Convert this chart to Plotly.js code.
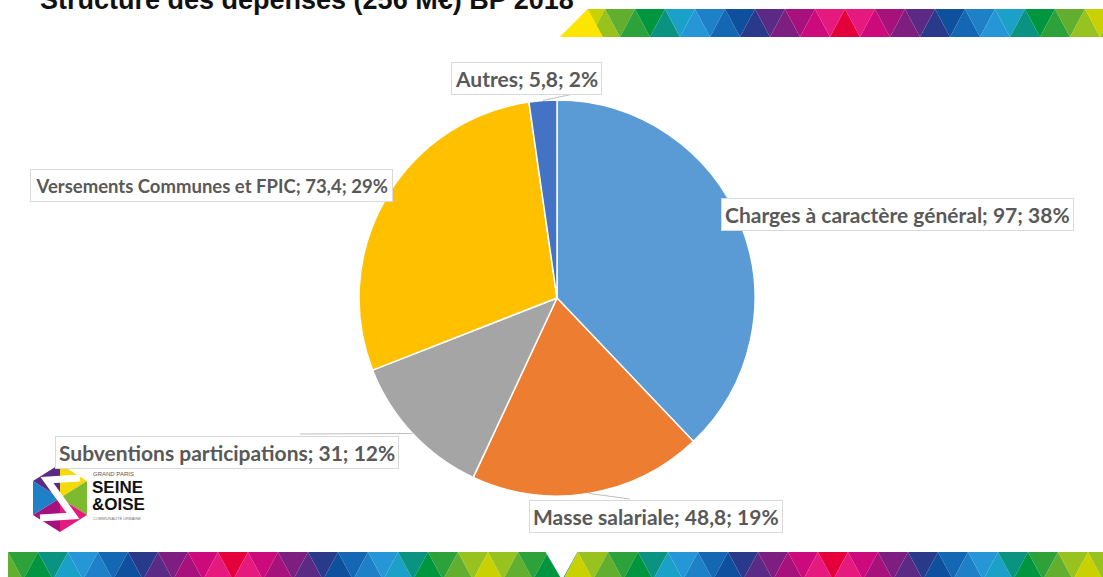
<!DOCTYPE html>
<html>
<head>
<meta charset="utf-8">
<script src="https://cdn.plot.ly/plotly-3.0.1.min.js"></script>
<style>html,body{margin:0;padding:0;background:#fff;}#chart{width:1103px;height:577px;}</style>
</head>
<body>
<div id="chart"></div>
<script>
// ---- data ----
const categories = ["Charges à caractère général", "Masse salariale", "Subventions participations", "Versements Communes et FPIC", "Autres"];
const values = [97, 48.8, 31, 73.4, 5.8];
const sliceColors = ["#5B9BD5", "#ED7D31", "#A5A5A5", "#FFC000", "#4472C4"];
const titleText = "Structure des dépenses (256 M€) BP 2018";

// ---- layout constants (pixels) ----
const W = 1103, H = 577;
const CX = 557, CY = 298, R = 198;
const labelPos = [[897, 214], [656, 516], [227, 452], [211, 185], [526, 78]];
const labelSize = [21, 21, 21, 18.5, 21];
const leaderEnd = [null, [630, 499], [300, 434], null, [578, 93]];

const total = values.reduce((a, b) => a + b, 0);
const fmt = v => String(v).replace('.', ',');
const labelTexts = categories.map((c, i) => c + "; " + fmt(values[i]) + "; " + Math.round(values[i] / total * 100) + "%");

// mid angles (clockwise from 12 o'clock)
let acc = 0;
const midAngles = values.map(v => { const a = (acc + v / 2) / total * 2 * Math.PI; acc += v; return a; });

const shapes = [];
const annotations = [];

// leader lines
midAngles.forEach((a, i) => {
  if (!leaderEnd[i]) return;
  const ex = CX + R * Math.sin(a), ey = CY - R * Math.cos(a);
  shapes.push({type: 'line', xref: 'x', yref: 'y', x0: ex, y0: ey, x1: leaderEnd[i][0], y1: leaderEnd[i][1],
    line: {color: '#BFBFBF', width: 1}, layer: 'above'});
});

// label boxes
labelTexts.forEach((t, i) => {
  annotations.push({xref: 'x', yref: 'y', x: labelPos[i][0], y: labelPos[i][1], text: t, showarrow: false,
    xanchor: 'center', yanchor: 'middle', bgcolor: '#FFFFFF', bordercolor: '#D9D9D9', borderwidth: 1,
    borderpad: labelSize[i] < 21 ? 4.5 : 3,
    font: {family: 'Lato, "Open Sans", sans-serif', size: labelSize[i], color: '#595959', weight: 'bold'}});
});

// title (cut off at top as in reference)
annotations.push({xref: 'x', yref: 'y', x: 38, y: 17, xanchor: 'left', yanchor: 'bottom', text: '<b>' + titleText + '</b>',
  showarrow: false, font: {family: '"Liberation Sans", Arial, sans-serif', size: 27, color: '#111111'}});

// ---- decorative stripes ----
const palette = ["#FCE500", "#C9D200", "#98C21E", "#62AF2F", "#2EA23A", "#00963F", "#0B9382", "#1BA0C7", "#2597D7", "#1E80C6",
  "#1467B3", "#0E4F9E", "#2A3A8A", "#5B2A85", "#7E1E80", "#A7117B", "#CC0A7C", "#E6197F", "#E4003B"];
function stripe(x0, x1, yTop, yBot, startIdx, dir) {
  const hw = 15;
  let idx = startIdx, d = dir;
  let k = 0;
  for (let x = x0; x < x1 + hw; x += hw, k++) {
    const up = (k % 2 === 0);
    let p;
    if (up) p = `M${x - hw},${yBot} L${x},${yTop} L${x + hw},${yBot} Z`;
    else p = `M${x - hw},${yTop} L${x + hw},${yTop} L${x},${yBot} Z`;
    shapes.push({type: 'path', xref: 'x', yref: 'y', path: p, fillcolor: palette[idx], line: {width: 0}, layer: 'below'});
    idx += d;
    if (idx >= palette.length - 1) { idx = palette.length - 1; d = -1; }
    if (idx <= 1 && d < 0) { idx = 1; d = 1; }
  }
}
// top stripe
stripe(575, W, 9, 37, 0, 1);
shapes.push({type: 'path', xref: 'x', yref: 'y', path: `M545,9 L588,9 L560,37 L545,37 Z`, fillcolor: '#FFFFFF', line: {width: 0}, layer: 'below'});
shapes.push({type: 'path', xref: 'x', yref: 'y', path: `M560,37 L588,9 L603,37 Z`, fillcolor: palette[0], line: {width: 0}, layer: 'below'});
// bottom stripe
stripe(8, 562, 552, 580, 3, 1);
stripe(578, W, 552, 580, 1, 1);
shapes.push({type: 'rect', xref: 'x', yref: 'y', x0: -20, x1: 8, y0: 550, y1: 580, fillcolor: '#FFFFFF', line: {width: 0}, layer: 'below'});
shapes.push({type: 'path', xref: 'x', yref: 'y', path: `M545,551 L578,551 L562,580 Z`, fillcolor: '#FFFFFF', line: {width: 0}, layer: 'below'});

// ---- logo ----
const lc = [60, 498], lr = 34, lw = 27;
const hex = [[lc[0], lc[1] - lr], [lc[0] + lw, lc[1] - lr / 2], [lc[0] + lw, lc[1] + lr / 2], [lc[0], lc[1] + lr], [lc[0] - lw, lc[1] + lr / 2], [lc[0] - lw, lc[1] - lr / 2]];
const hexCols = ["#F5D90A", "#7DBA2F", "#E6197F", "#A7117B", "#1E80C6", "#5B2A85"];
for (let i = 0; i < 6; i++) {
  const a = hex[i], b = hex[(i + 1) % 6];
  shapes.push({type: 'path', xref: 'x', yref: 'y', path: `M${lc[0]},${lc[1]} L${a[0]},${a[1]} L${b[0]},${b[1]} Z`, fillcolor: hexCols[i], line: {width: 0}, layer: 'above'});
}
shapes.push({type: 'path', xref: 'x', yref: 'y', path: `M80,478 L47,480 L73,516 L40,518`, line: {color: '#FFFFFF', width: 7}, layer: 'above'});
annotations.push({xref: 'x', yref: 'y', x: 91, y: 474, xanchor: 'left', yanchor: 'middle', text: 'GRAND PARIS', showarrow: false, font: {family: '"Liberation Sans Narrow", "Liberation Sans", sans-serif', size: 6, color: '#555'}});
annotations.push({xref: 'x', yref: 'y', x: 90, y: 487, xanchor: 'left', yanchor: 'middle', text: '<b>SEINE</b>', showarrow: false, font: {family: '"Liberation Sans Narrow", "Liberation Sans", sans-serif', size: 17, color: '#111'}});
annotations.push({xref: 'x', yref: 'y', x: 90, y: 504, xanchor: 'left', yanchor: 'middle', text: '<b>&amp;OISE</b>', showarrow: false, font: {family: '"Liberation Sans Narrow", "Liberation Sans", sans-serif', size: 17, color: '#111'}});
annotations.push({xref: 'x', yref: 'y', x: 91, y: 518, xanchor: 'left', yanchor: 'middle', text: 'COMMUNAUTÉ URBAINE', showarrow: false, font: {family: '"Liberation Sans Narrow", "Liberation Sans", sans-serif', size: 4, color: '#777'}});

const pieTrace = {
  type: 'pie', labels: categories, values: values, sort: false, direction: 'clockwise', rotation: 0,
  marker: {colors: sliceColors, line: {color: '#FFFFFF', width: 1.5}},
  textinfo: 'none', hoverinfo: 'label+value+percent',
  domain: {x: [(CX - R) / W, (CX + R) / W], y: [1 - (CY + R) / H, 1 - (CY - R) / H]}
};
const dummy = {type: 'scatter', x: [], y: [], xaxis: 'x', yaxis: 'y', hoverinfo: 'skip', showlegend: false};

const layout = {
  width: W, height: H, margin: {l: 0, r: 0, t: 0, b: 0}, showlegend: false,
  paper_bgcolor: '#FFFFFF', plot_bgcolor: 'rgba(0,0,0,0)',
  xaxis: {range: [0, W], visible: false, fixedrange: true, domain: [0, 1]},
  yaxis: {range: [H, 0], visible: false, fixedrange: true, domain: [0, 1]},
  shapes: shapes, annotations: annotations
};
Plotly.newPlot('chart', [dummy, pieTrace], layout, {displayModeBar: false, staticPlot: true});
</script>
</body>
</html>
